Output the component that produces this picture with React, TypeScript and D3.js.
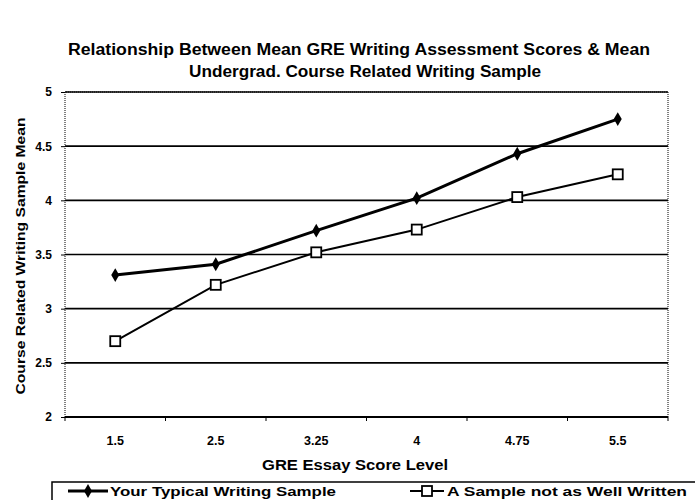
import React, { useEffect, useRef } from "react";
import * as d3 from "d3";

const categories = ["1.5", "2.5", "3.25", "4", "4.75", "5.5"];
const typicalSample = [3.31, 3.41, 3.72, 4.02, 4.43, 4.75];
const notAsWellWritten = [2.7, 3.22, 3.52, 3.73, 4.03, 4.24];
const yTicks = [2, 2.5, 3, 3.5, 4, 4.5, 5];
const titleLines = [
  "Relationship Between Mean GRE Writing Assessment Scores & Mean",
  "Undergrad. Course Related Writing Sample",
];
const xTitle = "GRE Essay Score Level";
const yTitle = "Course Related Writing Sample Mean";
const seriesNames = ["Your Typical Writing Sample", "A Sample not as Well Written"];

export default function App() {
  const ref = useRef<SVGSVGElement | null>(null);
  useEffect(() => {
    const svg = d3.select(ref.current);
    svg.selectAll("*").remove();
    const W = 695, H = 500;
    const left = 65, right = 668, top = 92, bottom = 417;
    const font = "'Liberation Sans', Arial, sans-serif";
    const x = d3.scaleBand<string>().domain(categories).range([left, right]);
    const y = d3.scaleLinear().domain([2, 5]).range([bottom, top]);

    svg.append("rect").attr("width", W).attr("height", H).attr("fill", "#fff");

    // Title
    const titleLens = [582, 352];
    const titleX = [359, 365];
    svg.append("g").selectAll("text").data(titleLines).join("text")
      .attr("x", (_d, i) => titleX[i]).attr("y", (_d, i) => 55 + i * 22)
      .attr("text-anchor", "middle").attr("font-family", font)
      .attr("font-weight", "bold").attr("font-size", 16).attr("fill", "#000")
      .attr("textLength", (_d, i) => titleLens[i]).attr("lengthAdjust", "spacingAndGlyphs")
      .text((d) => d);

    // plot border (dotted)
    svg.append("path")
      .attr("d", `M${left},${bottom}V${top}H${right}V${bottom}`)
      .attr("fill", "none").attr("stroke", "#000").attr("stroke-width", 1)
      .attr("stroke-dasharray", "1,1");

    // gridlines
    svg.append("g").selectAll("line").data(yTicks).join("line")
      .attr("x1", left).attr("x2", right)
      .attr("y1", (d) => y(d)).attr("y2", (d) => y(d))
      .attr("stroke", "#000").attr("stroke-width", (d) => (d === 2 ? 2 : 1.6));

    // y axis ticks + labels
    const yAxis = d3.axisLeft(y).tickValues(yTicks).tickSize(4).tickPadding(9)
      .tickFormat((d) => String(d));
    const ya = svg.append("g").attr("transform", `translate(${left},0)`).call(yAxis);
    ya.select(".domain").remove();
    ya.selectAll("text").attr("font-family", font).attr("font-weight", "bold")
      .attr("font-size", 12).attr("fill", "#000");

    // x axis
    const xAxis = d3.axisBottom(x).tickSize(0).tickPadding(19);
    const xa = svg.append("g").attr("transform", `translate(0,${bottom})`).call(xAxis);
    xa.select(".domain").remove();
    xa.selectAll("text").attr("font-family", font).attr("font-weight", "bold")
      .attr("font-size", 12.5).attr("fill", "#000");
    // boundary ticks
    const bounds = categories.map((c) => x(c) as number).concat([right]);
    svg.append("g").selectAll("line").data(bounds).join("line")
      .attr("x1", (d) => d).attr("x2", (d) => d)
      .attr("y1", bottom).attr("y2", bottom + 4)
      .attr("stroke", "#000").attr("stroke-width", 1);

    // axis titles
    svg.append("text").attr("x", 355).attr("y", 470).attr("text-anchor", "middle")
      .attr("font-family", font).attr("font-weight", "bold").attr("font-size", 14)
      .attr("textLength", 186).attr("lengthAdjust", "spacingAndGlyphs")
      .text(xTitle);
    svg.append("text")
      .attr("transform", `translate(25,256) rotate(-90)`)
      .attr("text-anchor", "middle").attr("font-family", font)
      .attr("font-weight", "bold").attr("font-size", 13.5)
      .attr("textLength", 277).attr("lengthAdjust", "spacingAndGlyphs")
      .text(yTitle);

    const cx = (c: string) => (x(c) as number) + x.bandwidth() / 2;
    const line = d3.line<number>().x((_d, i) => cx(categories[i])).y((d) => y(d));

    // series 2
    svg.append("path").datum(notAsWellWritten).attr("d", line)
      .attr("fill", "none").attr("stroke", "#000").attr("stroke-width", 2);
    svg.append("g").selectAll("rect").data(notAsWellWritten).join("rect")
      .attr("x", (_d, i) => cx(categories[i]) - 5).attr("y", (d) => y(d) - 5)
      .attr("width", 10).attr("height", 10).attr("fill", "#fff")
      .attr("stroke", "#000").attr("stroke-width", 1.8);

    // series 1
    svg.append("path").datum(typicalSample).attr("d", line)
      .attr("fill", "none").attr("stroke", "#000").attr("stroke-width", 3);
    const diamond = d3.symbol(d3.symbolDiamond, 55);
    svg.append("g").selectAll("path").data(typicalSample).join("path")
      .attr("d", diamond)
      .attr("transform", (d, i) => `translate(${cx(categories[i])},${y(d)})`)
      .attr("fill", "#000");

    // legend
    svg.append("rect").attr("x", 52).attr("y", 482).attr("width", 660).attr("height", 30)
      .attr("fill", "none").attr("stroke", "#000").attr("stroke-width", 1.5);
    const lg = svg.append("g");
    const ly = 491;
    lg.append("line").attr("x1", 68).attr("x2", 108).attr("y1", ly).attr("y2", ly)
      .attr("stroke", "#000").attr("stroke-width", 3);
    lg.append("path").attr("d", diamond).attr("transform", `translate(88,${ly})`).attr("fill", "#000");
    lg.append("text").attr("x", 110).attr("y", 496).attr("font-family", font)
      .attr("font-weight", "bold").attr("font-size", 13.5)
      .attr("textLength", 226).attr("lengthAdjust", "spacingAndGlyphs").text(seriesNames[0]);
    lg.append("line").attr("x1", 410).attr("x2", 444).attr("y1", ly).attr("y2", ly)
      .attr("stroke", "#000").attr("stroke-width", 2);
    lg.append("rect").attr("x", 422).attr("y", ly - 5).attr("width", 10).attr("height", 10)
      .attr("fill", "#fff").attr("stroke", "#000").attr("stroke-width", 1.8);
    lg.append("text").attr("x", 447).attr("y", 496).attr("font-family", font)
      .attr("font-weight", "bold").attr("font-size", 13.5)
      .attr("textLength", 240).attr("lengthAdjust", "spacingAndGlyphs").text(seriesNames[1]);
  }, []);
  return (
    <svg ref={ref} width={695} height={500}
      style={{ position: "absolute", left: 0, top: 0, display: "block" }} />
  );
}
